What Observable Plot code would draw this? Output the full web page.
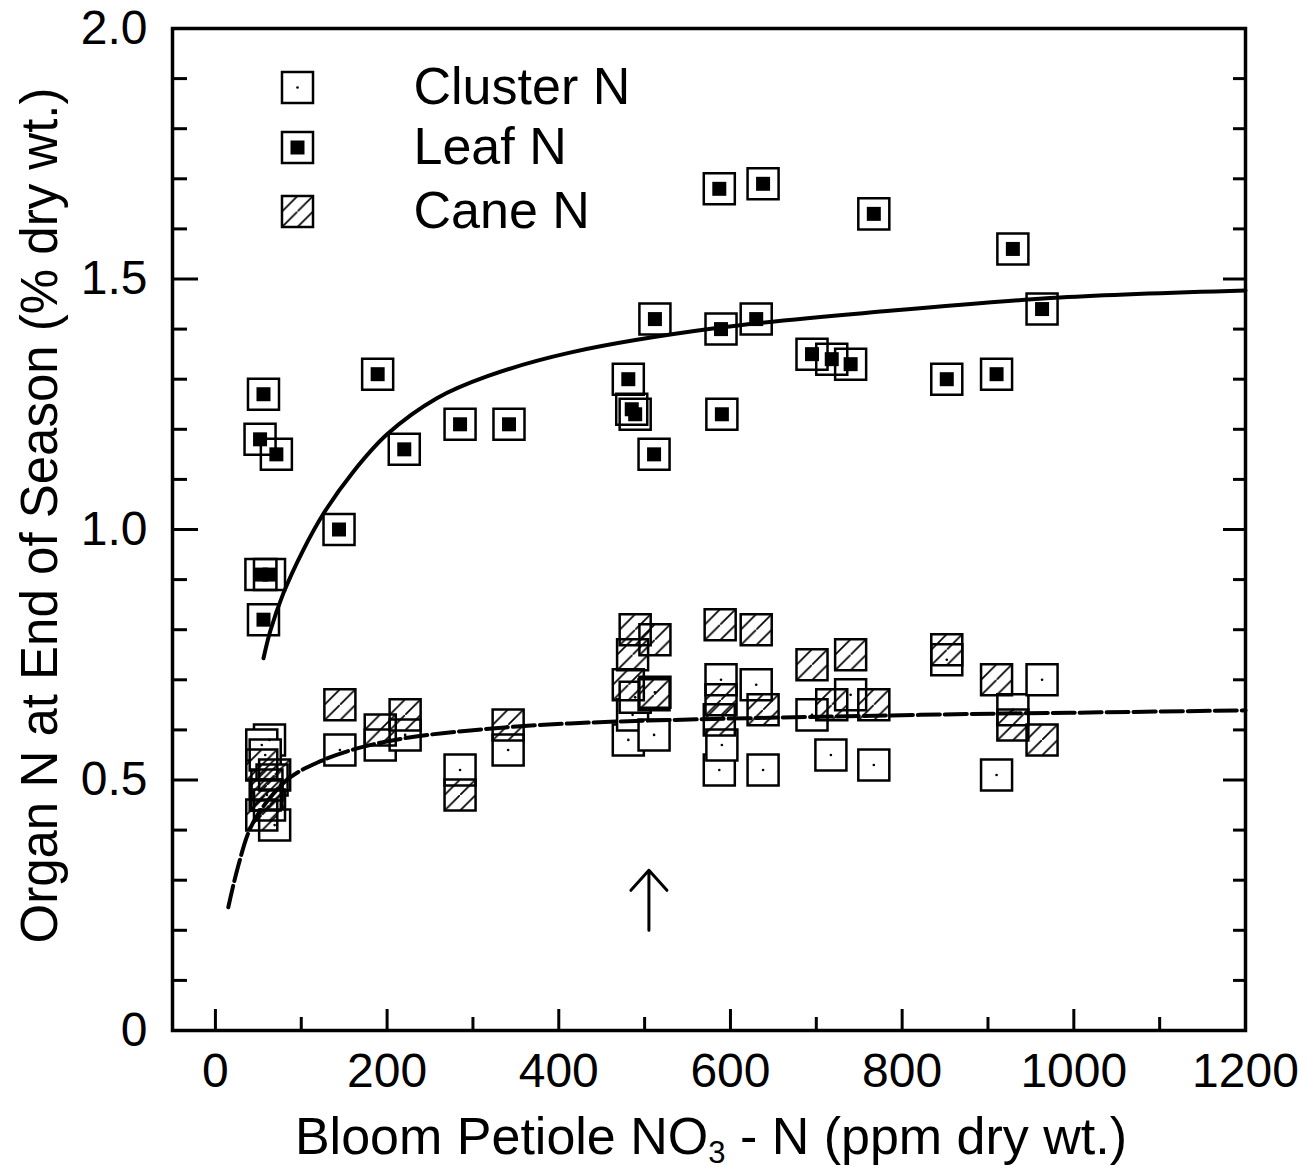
<!DOCTYPE html>
<html>
<head>
<meta charset="utf-8">
<script src="https://cdn.jsdelivr.net/npm/d3@7"></script>
<script src="https://cdn.jsdelivr.net/npm/@observablehq/plot@0.6"></script>
<style>
  html, body { margin: 0; padding: 0; background: #fff; }
  #chart svg { display: block; }
</style>
</head>
<body>
<div id="chart"></div>
<script>
// ---------- data ----------
const leafX = [56, 52, 71, 53, 63, 56, 144, 189, 220, 285, 342, 481, 485, 489, 511, 512, 587, 589, 590, 630, 638, 695, 718, 740, 767, 852, 910, 929, 963];
const leafY = [1.27, 1.18, 1.15, 0.91, 0.91, 0.82, 1.00, 1.31, 1.16, 1.21, 1.21, 1.30, 1.24, 1.23, 1.15, 1.42, 1.68, 1.40, 1.23, 1.42, 1.69, 1.35, 1.34, 1.33, 1.63, 1.30, 1.31, 1.56, 1.44];

const clusterX = [63, 54, 58, 66, 60, 69, 145, 192, 221, 285, 341, 481, 486, 489, 511, 512, 587, 589, 590, 630, 638, 695, 717, 740, 767, 852, 910, 929, 963];
const clusterY = [0.58, 0.57, 0.55, 0.50, 0.47, 0.41, 0.56, 0.57, 0.59, 0.52, 0.56, 0.58, 0.63, 0.665, 0.59, 0.675, 0.52, 0.70, 0.57, 0.69, 0.52, 0.63, 0.55, 0.67, 0.53, 0.74, 0.51, 0.64, 0.70];

const caneX = [54, 69, 60, 58, 63, 54, 145, 192, 221, 285, 341, 481, 486, 489, 511, 512, 587, 589, 588, 630, 638, 695, 718, 740, 767, 852, 910, 929, 963];
const caneY = [0.53, 0.51, 0.49, 0.47, 0.45, 0.43, 0.65, 0.60, 0.63, 0.47, 0.61, 0.69, 0.75, 0.80, 0.67, 0.78, 0.62, 0.66, 0.81, 0.80, 0.64, 0.73, 0.65, 0.75, 0.65, 0.76, 0.70, 0.61, 0.58];

// fitted curves as drawn
const leafCurveX = [56, 64, 79, 102, 126, 160, 200, 258, 317, 413, 588, 789, 984, 1200];
const leafCurveY = [0.743, 0.798, 0.872, 0.958, 1.032, 1.114, 1.190, 1.262, 1.306, 1.353, 1.403, 1.437, 1.463, 1.477];

const organCurveX = [15, 26, 41, 61, 87, 119, 165, 219, 297, 413, 821, 1030, 1200];
const organCurveY = [0.246, 0.325, 0.405, 0.459, 0.505, 0.535, 0.563, 0.583, 0.599, 0.613, 0.630, 0.635, 0.639];

// arrow marker above the x axis (tail position)
const arrowX = [505];
const arrowY = [0.20];

// axes
const xDomain = [-50, 1200];
const yDomain = [0, 2];
const xMajorTicks = [0, 200, 400, 600, 800, 1000, 1200];
const xMinorTicks = [100, 300, 500, 700, 900, 1100];
const yMajorTicks = [0, 0.5, 1.0, 1.5, 2.0];
const yMinorTicks = [0.1, 0.2, 0.3, 0.4, 0.6, 0.7, 0.8, 0.9, 1.1, 1.2, 1.3, 1.4, 1.6, 1.7, 1.8, 1.9];

const legendLabels = ["Cluster N", "Leaf N", "Cane N"];
const xLabel = "Bloom Petiole NO\u2083 - N (ppm dry wt.)";
const yLabel = "Organ N at End of Season (% dry wt.)";

// ---------- build tables ----------
const zip = (xs, ys) => xs.map((x, i) => ({x, y: ys[i]}));
const leaf = zip(leafX, leafY);
const cluster = zip(clusterX, clusterY);
const cane = zip(caneX, caneY);
const leafCurve = zip(leafCurveX, leafCurveY);
const organCurve = zip(organCurveX, organCurveY);
const arrows = zip(arrowX, arrowY);

// ---------- styles ----------
const W = 1309, H = 1173;
const ML = 172, MR = 64, MT = 28, MB = 143;
const FONT = 52, TICKFONT = 48;
const SQ = 17.5;          // square symbol radius (side ~31px)
const INNER = 7.9;        // leaf inner filled square
const SW = 2.5;

const sqOpts = {symbol: "square", r: SQ, stroke: "black", strokeWidth: SW};

// up-arrow shape: shaft of length l with two wings
const upArrow = {
  draw(context, l) {
    context.moveTo(0, 0);
    context.lineTo(0, -l);
    context.moveTo(-18, 20 - l);
    context.lineTo(0, -l);
    context.lineTo(18, 20 - l);
  }
};

const legendMarks = [];
const legendDy = [59, 119, 183];
legendDy.forEach((dy, i) => {
  const base = {frameAnchor: "top-left", dx: 125, dy};
  if (i === 0) {
    legendMarks.push(Plot.dot([0], {...base, ...sqOpts, fill: "white"}));
    legendMarks.push(Plot.dot([0], {...base, r: 1.3, fill: "black"}));
  } else if (i === 1) {
    legendMarks.push(Plot.dot([0], {...base, ...sqOpts, fill: "none"}));
    legendMarks.push(Plot.dot([0], {...base, symbol: "square", r: INNER, fill: "black"}));
  } else {
    legendMarks.push(Plot.dot([0], {...base, ...sqOpts, fill: "url(#hatch)"}));
  }
  legendMarks.push(Plot.text([legendLabels[i]], {frameAnchor: "top-left", dx: 241, dy, text: d => d, textAnchor: "start", lineAnchor: "middle", fontSize: FONT, fill: "black"}));
});

const svg = Plot.plot({
  width: W,
  height: H,
  marginLeft: ML,
  marginRight: MR,
  marginTop: MT,
  marginBottom: MB,
  style: {fontFamily: "'Liberation Sans', Arial, Helvetica, sans-serif", background: "white", color: "black"},
  x: {domain: xDomain},
  y: {domain: yDomain},
  marks: [
    // data squares
    Plot.dot(cluster, {x: "x", y: "y", ...sqOpts, fill: "white"}),
    Plot.dot(cluster, {x: "x", y: "y", r: 1.3, fill: "black"}),
    Plot.dot(cane, {x: "x", y: "y", ...sqOpts, fill: "url(#hatch)"}),
    Plot.dot(leaf, {x: "x", y: "y", ...sqOpts, fill: "none"}),
    Plot.dot(leaf, {x: "x", y: "y", symbol: "square", r: INNER, fill: "black"}),
    // fitted curves
    Plot.line(leafCurve, {x: "x", y: "y", curve: "catmull-rom", stroke: "black", strokeWidth: 4}),
    Plot.line(organCurve, {x: "x", y: "y", curve: "catmull-rom", stroke: "black", strokeWidth: 4, strokeDasharray: "22,5"}),
    // arrow
    Plot.vector(arrows, {x: "x", y: "y", length: 60, anchor: "start", shape: upArrow, stroke: "black", strokeWidth: 3}),
    // ticks (inward)
    Plot.axisY({anchor: "left", ticks: yMinorTicks, tickSize: -15, strokeWidth: 3, fill: "none", label: null}),
    Plot.axisY({anchor: "left", ticks: yMajorTicks, tickSize: -26, strokeWidth: 3, fill: "none", label: null}),
    Plot.axisY({anchor: "right", ticks: yMinorTicks, tickSize: -13, strokeWidth: 3, fill: "none", label: null}),
    Plot.axisY({anchor: "right", ticks: yMajorTicks, tickSize: -23, strokeWidth: 3, fill: "none", label: null}),
    Plot.axisX({anchor: "bottom", ticks: xMinorTicks, tickSize: -13, strokeWidth: 3, fill: "none", label: null}),
    Plot.axisX({anchor: "bottom", ticks: xMajorTicks, tickSize: -21, strokeWidth: 3, fill: "none", label: null}),
    // tick labels
    Plot.axisY({anchor: "left", ticks: yMajorTicks, tickSize: 0, tickPadding: 25, fontSize: TICKFONT, tickFormat: d => d === 0 ? "0" : d3.format(".1f")(d), label: null}),
    Plot.axisX({anchor: "bottom", ticks: xMajorTicks, tickSize: 0, tickPadding: 22, fontSize: TICKFONT, tickFormat: d => String(d), label: null}),
    // frame
    Plot.frame({stroke: "black", strokeWidth: 3.5}),
    // axis titles
    Plot.text([yLabel], {frameAnchor: "left", dx: -132, dy: -14, rotate: -90, textAnchor: "middle", lineAnchor: "middle", text: d => d, fontSize: 51, fill: "black"}),
    Plot.text([xLabel], {frameAnchor: "bottom", dx: 2, dy: 107, textAnchor: "middle", lineAnchor: "middle", text: d => d, fontSize: FONT, fill: "black"}),
    ...legendMarks
  ]
});

// hatch pattern for cane squares (three "/" lines per square)
const ns = "http://www.w3.org/2000/svg";
const defs = document.createElementNS(ns, "defs");
defs.innerHTML = `<pattern id="hatch" patternUnits="objectBoundingBox" patternContentUnits="objectBoundingBox" x="0" y="0" width="0.5" height="0.5">
  <path d="M-0.05,0.55 L0.55,-0.05" stroke="black" stroke-width="0.055" fill="none"/>
</pattern>`;
svg.insertBefore(defs, svg.firstChild);

// subscript in the x-axis title
for (const t of svg.querySelectorAll("text")) {
  if (t.childNodes.length === 1 && t.textContent === xLabel) {
    const [a, b] = xLabel.split("\u2083");
    t.textContent = "";
    const s1 = document.createElementNS(ns, "tspan"); s1.textContent = a;
    const s2 = document.createElementNS(ns, "tspan"); s2.textContent = "3";
    s2.setAttribute("font-size", "31"); s2.setAttribute("dy", "9");
    const s3 = document.createElementNS(ns, "tspan"); s3.textContent = b; s3.setAttribute("dy", "-9");
    t.append(s1, s2, s3);
  }
}

document.getElementById("chart").appendChild(svg);
</script>
</body>
</html>
